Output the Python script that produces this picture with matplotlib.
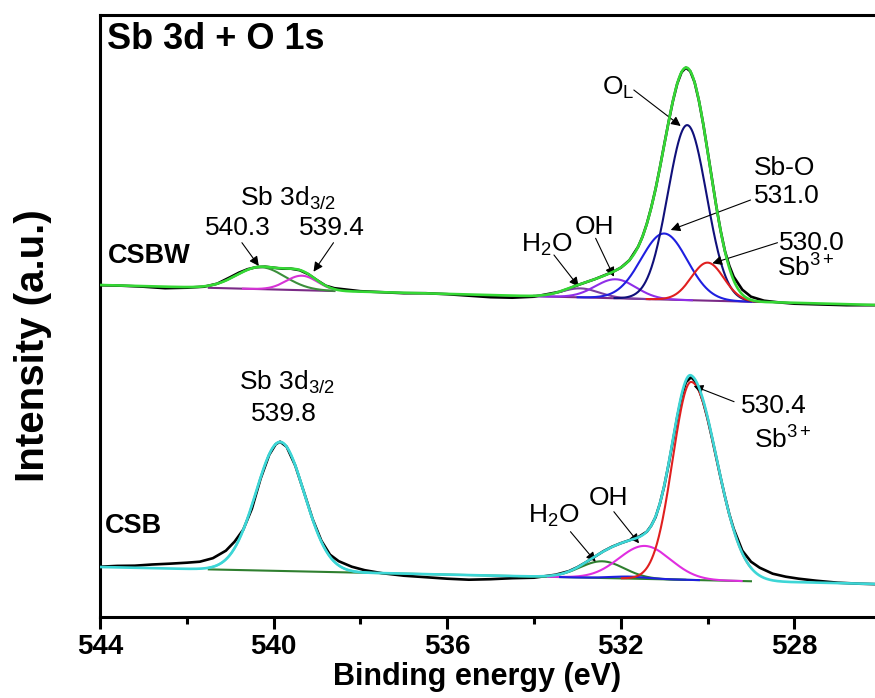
import numpy as np
import matplotlib.pyplot as plt

plt.rcParams['font.family'] = ['Liberation Sans', 'DejaVu Sans']
plt.rcParams['mathtext.fontset'] = 'custom'
plt.rcParams['mathtext.rm'] = 'Liberation Sans'
plt.rcParams['mathtext.it'] = 'Liberation Sans:italic'
plt.rcParams['mathtext.bf'] = 'Liberation Sans:bold'

# ---- CSBW (upper spectrum) ----
csbw_raw_e = [544.0, 543.5, 543.0, 542.5, 542.0, 541.6, 541.3, 541.0, 540.8, 540.6,
              540.4, 540.2, 540.0, 539.8, 539.6, 539.4, 539.2, 539.0, 538.8, 538.6,
              538.3, 538.0, 537.5, 537.0, 536.5, 536.0, 535.5, 535.0, 534.5, 534.0,
              533.7, 533.4, 533.2, 533.0, 532.8, 532.6, 532.4, 532.2, 532.0, 531.8,
              531.6, 531.5, 531.4, 531.3, 531.2, 531.1, 531.0, 530.9, 530.8, 530.7,
              530.6, 530.5, 530.4, 530.3, 530.2, 530.1, 530.0, 529.9, 529.8, 529.7,
              529.6, 529.5, 529.4, 529.2, 529.0, 528.7, 528.4, 528.0, 527.6, 527.2,
              526.8, 526.4, 526.1]
csbw_raw_h = [331.5, 331.0, 330.0, 328.5, 329.0, 330.0, 333.0, 339.5, 344.0, 347.5,
              349.5, 350.0, 349.0, 348.0, 348.0, 346.5, 342.5, 336.5, 331.0, 328.5,
              327.0, 325.5, 324.5, 323.5, 323.5, 322.5, 321.0, 319.5, 319.0, 320.0,
              322.5, 325.0, 328.0, 331.5, 334.5, 337.5, 341.0, 344.5, 349.0, 356.5,
              370.0, 380.0, 393.0, 409.0, 427.5, 449.0, 472.0, 494.5, 515.5, 533.0,
              544.5, 549.0, 545.5, 534.5, 516.0, 492.5, 465.5, 438.0, 410.5, 386.0,
              365.5, 351.0, 340.0, 327.0, 320.0, 316.0, 314.5, 313.0, 312.5, 312.0,
              311.5, 311.5, 311.5]
csbw_bg_e = [544.0, 526.1]
csbw_bg_h = [331.7, 311.7]
csbw_bg_spans = [(541.5, 538.6), (534.0, 528.8)]
csbw_centers = [540.3, 539.35, 532.93, 532.12, 531.0, 530.47, 530.0]
csbw_heights = [22, 14.5, 9, 19, 66, 175, 38]
csbw_fwhm_hi = [1.3, 0.85, 1.0, 1.1, 1.25, 1.05, 0.88]
csbw_fwhm_lo = [1.3, 0.85, 1.0, 1.1, 1.25, 1.05, 0.88]
csbw_colors = ['#3b8f3b', '#d633d6', '#7b3fa0', '#8f2ee8', '#1f1fe0', '#10107a', '#e01f1f']

# ---- CSB (lower spectrum) ----
csb_raw_e = [544.0, 543.6, 543.2, 542.8, 542.4, 542.0, 541.7, 541.4, 541.1, 540.9,
             540.7, 540.5, 540.3, 540.1, 539.95, 539.85, 539.7, 539.5, 539.3, 539.1,
             538.9, 538.7, 538.5, 538.2, 537.9, 537.5, 537.0, 536.5, 536.0, 535.5,
             535.0, 534.5, 534.0, 533.5, 533.2, 533.0, 532.8, 532.6, 532.4, 532.2,
             532.0, 531.8, 531.6, 531.4, 531.3, 531.2, 531.1, 531.0, 530.9, 530.8,
             530.7, 530.6, 530.5, 530.38, 530.3, 530.2, 530.1, 530.0, 529.9, 529.8,
             529.7, 529.6, 529.5, 529.4, 529.2, 529.0, 528.8, 528.5, 528.2, 527.9,
             527.5, 527.0, 526.5, 526.1]
csb_raw_h = [50.0, 50.8, 51.0, 52.2, 53.0, 54.0, 55.0, 58.5, 66.0, 75.0,
             87.0, 108.0, 138.0, 162.0, 172.5, 175.0, 170.0, 151.0, 124.5, 97.5,
             76.0, 62.0, 55.5, 50.0, 46.5, 43.5, 41.0, 39.5, 38.0, 37.0,
             37.5, 38.5, 39.0, 42.0, 45.5, 49.5, 54.5, 60.0, 65.5, 70.0,
             73.5, 76.5, 79.5, 85.0, 91.0, 99.5, 113.0, 130.5, 152.0, 175.5,
             199.5, 220.0, 234.5, 239.5, 236.0, 227.5, 214.5, 198.0, 179.0, 159.0,
             139.0, 120.0, 102.5, 88.0, 66.0, 55.0, 49.0, 43.0, 40.0, 38.0,
             36.0, 34.0, 33.0, 32.5]
csb_bg_e = [544.0, 526.1]
csb_bg_h = [49.7, 32.7]
csb_bg_spans = [(541.5, 529.0)]
csb_centers = [539.85, 532.43, 531.45, 531.8, 530.38]
csb_heights = [129, 16.7, 33, 2, 198]
csb_fwhm_hi = [1.31, 1.2, 1.4, 1.0, 1.0]
csb_fwhm_lo = [1.31, 1.2, 1.4, 1.0, 1.4]
csb_colors = ['#3dd6d6', '#2f7f2f', '#e02ee0', '#1f1fe0', '#e01f1f']


def peak(e, c, h, w_hi, w_lo):
    w = np.where(e >= c, w_hi, w_lo)
    return h * np.exp(-4 * np.log(2) * (e - c) ** 2 / w ** 2)


def draw_spectrum(ax, raw_e, raw_h, bg_e, bg_h, spans, centers, heights,
                  w_hi, w_lo, colors, bg_color, env_color):
    e = np.linspace(526.1, 544.0, 2000)
    bg = np.interp(e, bg_e[::-1], bg_h[::-1])
    ax.plot(raw_e, raw_h, color='black', lw=1.9, zorder=2)
    for lo_hi in spans:
        m = (e <= lo_hi[0]) & (e >= lo_hi[1])
        ax.plot(e[m], bg[m], color=bg_color, lw=1.5, zorder=3)
    env = bg.copy()
    for c, h, wh, wl, col in zip(centers, heights, w_hi, w_lo, colors):
        p = peak(e, c, h, wh, wl)
        env += p
        for lo_hi in spans:
            top = min(lo_hi[0], c + 1.6 * wh)
            bot = max(lo_hi[1], c - 1.6 * wl)
            m = (e <= top) & (e >= bot)
            if m.any():
                ax.plot(e[m], bg[m] + p[m], color=col, lw=1.5, zorder=3)
    ax.plot(e, env, color=env_color, lw=1.9, zorder=4)


fig = plt.figure(figsize=(8.75, 6.98), dpi=100)
ax = fig.add_axes([100 / 875, 81.3 / 698, 776 / 875, 601.7 / 698])

draw_spectrum(ax, csbw_raw_e, csbw_raw_h, csbw_bg_e, csbw_bg_h, csbw_bg_spans,
              csbw_centers, csbw_heights, csbw_fwhm_hi, csbw_fwhm_lo, csbw_colors,
              '#7a2a86', '#35d835')
draw_spectrum(ax, csb_raw_e, csb_raw_h, csb_bg_e, csb_bg_h, csb_bg_spans,
              csb_centers, csb_heights, csb_fwhm_hi, csb_fwhm_lo, csb_colors,
              '#2f7f2f', '#3dd6d6')

ax.set_xlim(544, 526.12)
ax.set_ylim(0, 601.7)
ax.set_xticks([544, 540, 536, 532, 528])
ax.set_xticks([542, 538, 534, 530], minor=True)
ax.set_yticks([])
ax.tick_params(axis='x', which='major', direction='out', length=8.5, width=2.2,
               labelsize=20, pad=4)
ax.tick_params(axis='x', which='minor', direction='out', length=5, width=2.2)
for lab in ax.get_xticklabels():
    lab.set_fontweight('bold')
for side in ['left', 'bottom', 'top']:
    ax.spines[side].set_linewidth(2.2)
ax.spines['right'].set_visible(False)

ax.set_xlabel('Binding energy (eV)', fontsize=22, fontweight='bold')
ax.xaxis.set_label_coords(0.486, -0.075)
ax.set_ylabel('Intensity (a.u.)', fontsize=29, fontweight='bold')
ax.yaxis.set_label_coords(-0.062, 0.45)

ax.text(543.85, 577, 'Sb 3d + O 1s', fontsize=26, fontweight='bold', va='center')
ax.text(543.82, 360.7, 'CSBW', fontsize=19.5, fontweight='bold', va='center')
ax.text(543.88, 90.7, 'CSB', fontsize=19.5, fontweight='bold', va='center')

fs = 19
arr = dict(arrowstyle='-|>', color='black', lw=0.8, mutation_scale=14,
           shrinkA=0, shrinkB=0)

# upper labels
ax.text(539.66, 418.7, 'Sb 3d$_{3/2}$', fontsize=fs, ha='center', va='center')
ax.text(540.83, 388.7, '540.3', fontsize=fs, ha='center', va='center')
ax.text(538.65, 388.7, '539.4', fontsize=fs, ha='center', va='center')
ax.annotate('', xy=(540.34, 350.7), xytext=(540.73, 374), arrowprops=arr)
ax.annotate('', xy=(539.08, 345), xytext=(538.62, 374), arrowprops=arr)
ax.text(532.07, 528.7, 'O$_\\mathrm{L}$', fontsize=fs, ha='center', va='center')
ax.annotate('', xy=(530.62, 490.7), xytext=(531.7, 526.7), arrowprops=arr)
ax.text(528.22, 448.7, 'Sb-O', fontsize=fs, ha='center', va='center')
ax.text(528.18, 420.7, '531.0', fontsize=fs, ha='center', va='center')
ax.annotate('', xy=(530.85, 386.7), xytext=(529.01, 416.7), arrowprops=arr)
ax.text(527.6, 373.7, '530.0', fontsize=fs, ha='center', va='center')
ax.text(527.74, 348.7, 'Sb$^{3+}$', fontsize=fs, ha='center', va='center')
ax.annotate('', xy=(529.89, 353.4), xytext=(528.39, 374), arrowprops=arr)
ax.text(532.6, 389.7, 'OH', fontsize=fs, ha='center', va='center')
ax.annotate('', xy=(532.16, 340), xytext=(532.58, 378.4), arrowprops=arr)
ax.text(533.71, 371.7, 'H$_2$O', fontsize=fs, ha='center', va='center')
ax.annotate('', xy=(532.97, 330), xytext=(533.54, 361.7), arrowprops=arr)

# lower labels
ax.text(539.69, 234.7, 'Sb 3d$_{3/2}$', fontsize=fs, ha='center', va='center')
ax.text(539.76, 202.7, '539.8', fontsize=fs, ha='center', va='center')
ax.text(528.47, 210.7, '530.4', fontsize=fs, ha='center', va='center')
ax.text(528.27, 176.7, 'Sb$^{3+}$', fontsize=fs, ha='center', va='center')
ax.annotate('', xy=(530.32, 230.7), xytext=(529.39, 215), arrowprops=arr)
ax.text(532.28, 118.7, 'OH', fontsize=fs, ha='center', va='center')
ax.annotate('', xy=(531.58, 73.4), xytext=(532.16, 105), arrowprops=arr)
ax.text(533.55, 100.7, 'H$_2$O', fontsize=fs, ha='center', va='center')
ax.annotate('', xy=(532.58, 55), xytext=(533.16, 85), arrowprops=arr)

fig.savefig('out.png', dpi=100)
